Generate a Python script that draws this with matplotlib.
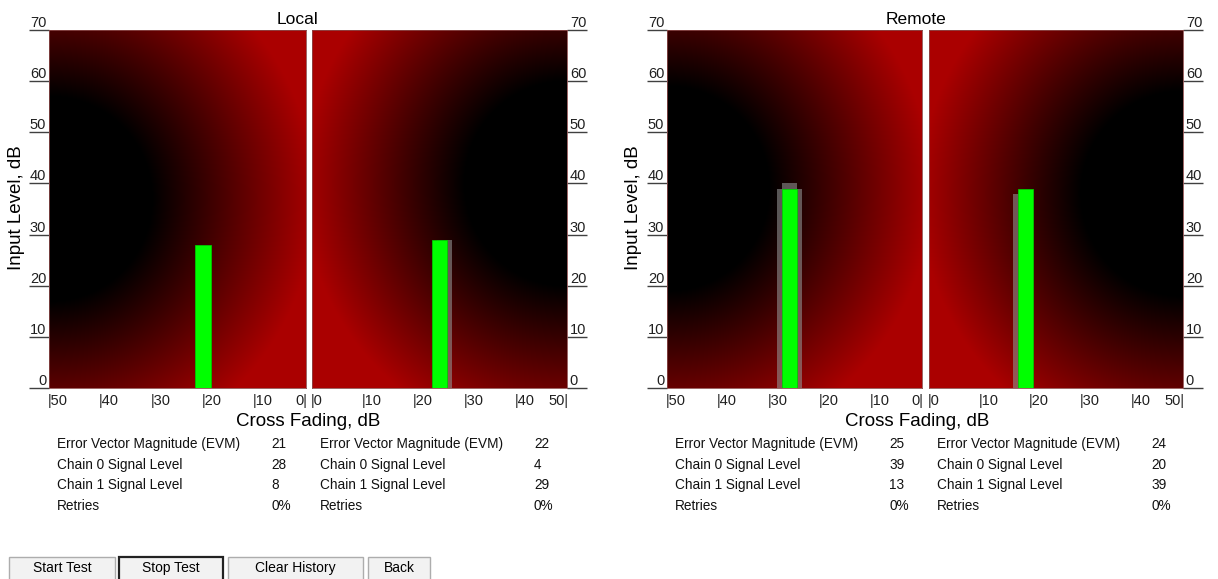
import numpy as np
import matplotlib
matplotlib.use('Agg')
import matplotlib.pyplot as plt
from matplotlib.patches import Rectangle

W, H = 1218, 579

# four panels: Local (chain 0 side, chain 1 side), Remote (chain 0 side, chain 1 side)
evm = [21, 22, 25, 24]
chain0 = [28, 4, 39, 20]
chain1 = [8, 29, 13, 39]
retries = ['0%', '0%', '0%', '0%']

# earlier readings, drawn as faded bars
hist_panel = [1, 2, 2, 2, 3]
hist_cross = [26, 25, 27, 26, 18]
hist_level = [29, 39, 39, 40, 38]

# input level where the dark zone of each panel sits
dark_center = [37, 40, 39, 38]

cross_ticks = [0, 10, 20, 30, 40, 50]
level_ticks = [0, 10, 20, 30, 40, 50, 60, 70]
row_labels = ['Error Vector Magnitude (EVM)', 'Chain 0 Signal Level',
              'Chain 1 Signal Level', 'Retries']
groups = ['Local', 'Remote']
buttons = ['Start Test', 'Stop Test', 'Clear History', 'Back']

plt.rcParams['font.family'] = ['Liberation Sans', 'DejaVu Sans']

fig = plt.figure(figsize=(W / 100, H / 100), dpi=100)


def fx(x):
    return x / W


def fy(y):
    return 1 - y / H


panel_x = [(49, 306), (312, 567), (667, 922), (929, 1183)]
top, bot = 30, 388

cx = np.linspace(0, 50, 400)
cy = np.linspace(0, 70, 500)
CX, CY = np.meshgrid(cx, cy)

for p in range(4):
    x0, x1 = panel_x[p]
    ax = fig.add_axes([fx(x0), fy(bot), (x1 - x0) / W, (bot - top) / H])
    d = np.sqrt((CX - 50) ** 2 + (CY - dark_center[p]) ** 2)
    t = np.clip((d - 20) / 32.0, 0, 1)
    img = np.zeros(CX.shape + (3,))
    img[..., 0] = 0.67 * t
    ax.imshow(img, extent=[0, 50, 0, 70], origin='lower', aspect='auto',
              interpolation='bilinear', zorder=0)

    for i in range(len(hist_panel)):
        if hist_panel[i] == p:
            ax.bar(hist_cross[i], hist_level[i], width=3, color='#909090',
                   alpha=0.6, linewidth=0, zorder=2)

    cross = abs(chain0[p] - chain1[p])
    level = max(chain0[p], chain1[p])
    ax.bar(cross, level, width=3, color='#00ff00', edgecolor='#00c800',
           linewidth=0.6, zorder=3)

    left_side = (p % 2 == 0)
    if left_side:
        ax.set_xlim(50, 0)
    else:
        ax.set_xlim(0, 50)
    ax.set_ylim(0, 70)
    for s in ax.spines.values():
        s.set_color('#8a4a4a')
        s.set_linewidth(0.6)

    ax.set_xticks([])
    ax.set_yticks(level_ticks)
    ax.set_yticklabels([])
    if left_side:
        ax.tick_params(axis='y', left=True, right=False, length=14.5,
                       width=1, color='#404040', direction='out')
        for v in level_ticks:
            ax.annotate(str(v), xy=(0, v), xycoords=('axes fraction', 'data'),
                        xytext=(-2, 0), textcoords='offset points',
                        ha='right', va='bottom', fontsize=10.5, color='#202020')
    else:
        ax.tick_params(axis='y', left=False, right=True, length=14.5,
                       width=1, color='#404040', direction='out')
        for v in level_ticks:
            ax.annotate(str(v), xy=(1, v), xycoords=('axes fraction', 'data'),
                        xytext=(2, 0), textcoords='offset points',
                        ha='left', va='bottom', fontsize=10.5, color='#202020')

    for v in cross_ticks:
        edge = (v == 0) if left_side else (v == 50)
        lab = (str(v) + '|') if edge else ('|' + str(v))
        ax.annotate(lab, xy=(v, 0), xycoords=('data', 'axes fraction'),
                    xytext=(1 if edge else -1, -4), textcoords='offset points',
                    ha='right' if edge else 'left', va='top', fontsize=10.5,
                    color='#202020')

    # readings table under each panel
    for r in range(4):
        vals = [evm[p], chain0[p], chain1[p], retries[p]]
        ty = 444 + r * 20.7
        fig.text(fx(x0 + 8), fy(ty), row_labels[r], ha='left', va='center',
                 fontsize=9.8, color='#111111')
        fig.text(fx(x0 + 222), fy(ty), str(vals[r]), ha='left', va='center',
                 fontsize=9.8, color='#111111')

title_x = [298, 916]
xlabel_x = [308, 917]
ylabel_x = [17, 634]
for g in range(2):
    fig.text(fx(title_x[g]), fy(19), groups[g], ha='center', va='center',
             fontsize=12.5)
    fig.text(fx(xlabel_x[g]), fy(422), 'Cross Fading, dB', ha='center',
             va='center', fontsize=13.5)
    fig.text(fx(ylabel_x[g]), fy(208), 'Input Level, dB', ha='center',
             va='center', rotation=90, fontsize=13.5)

# buttons
btn_x = [(9, 115), (119, 223), (228, 363), (368, 430)]
for b in range(4):
    bx0, bx1 = btn_x[b]
    focused = (buttons[b] == 'Stop Test')
    rect = Rectangle((fx(bx0), fy(585)), (bx1 - bx0) / W, 28 / H,
                     transform=fig.transFigure, facecolor='#f2f2f2',
                     edgecolor='#222222' if focused else '#adadad',
                     linewidth=1.6 if focused else 1.0)
    fig.add_artist(rect)
    fig.text(fx((bx0 + bx1) / 2), fy(568), buttons[b], ha='center',
             va='center', fontsize=10)

plt.savefig('out.png', dpi=100)
plt.close()
